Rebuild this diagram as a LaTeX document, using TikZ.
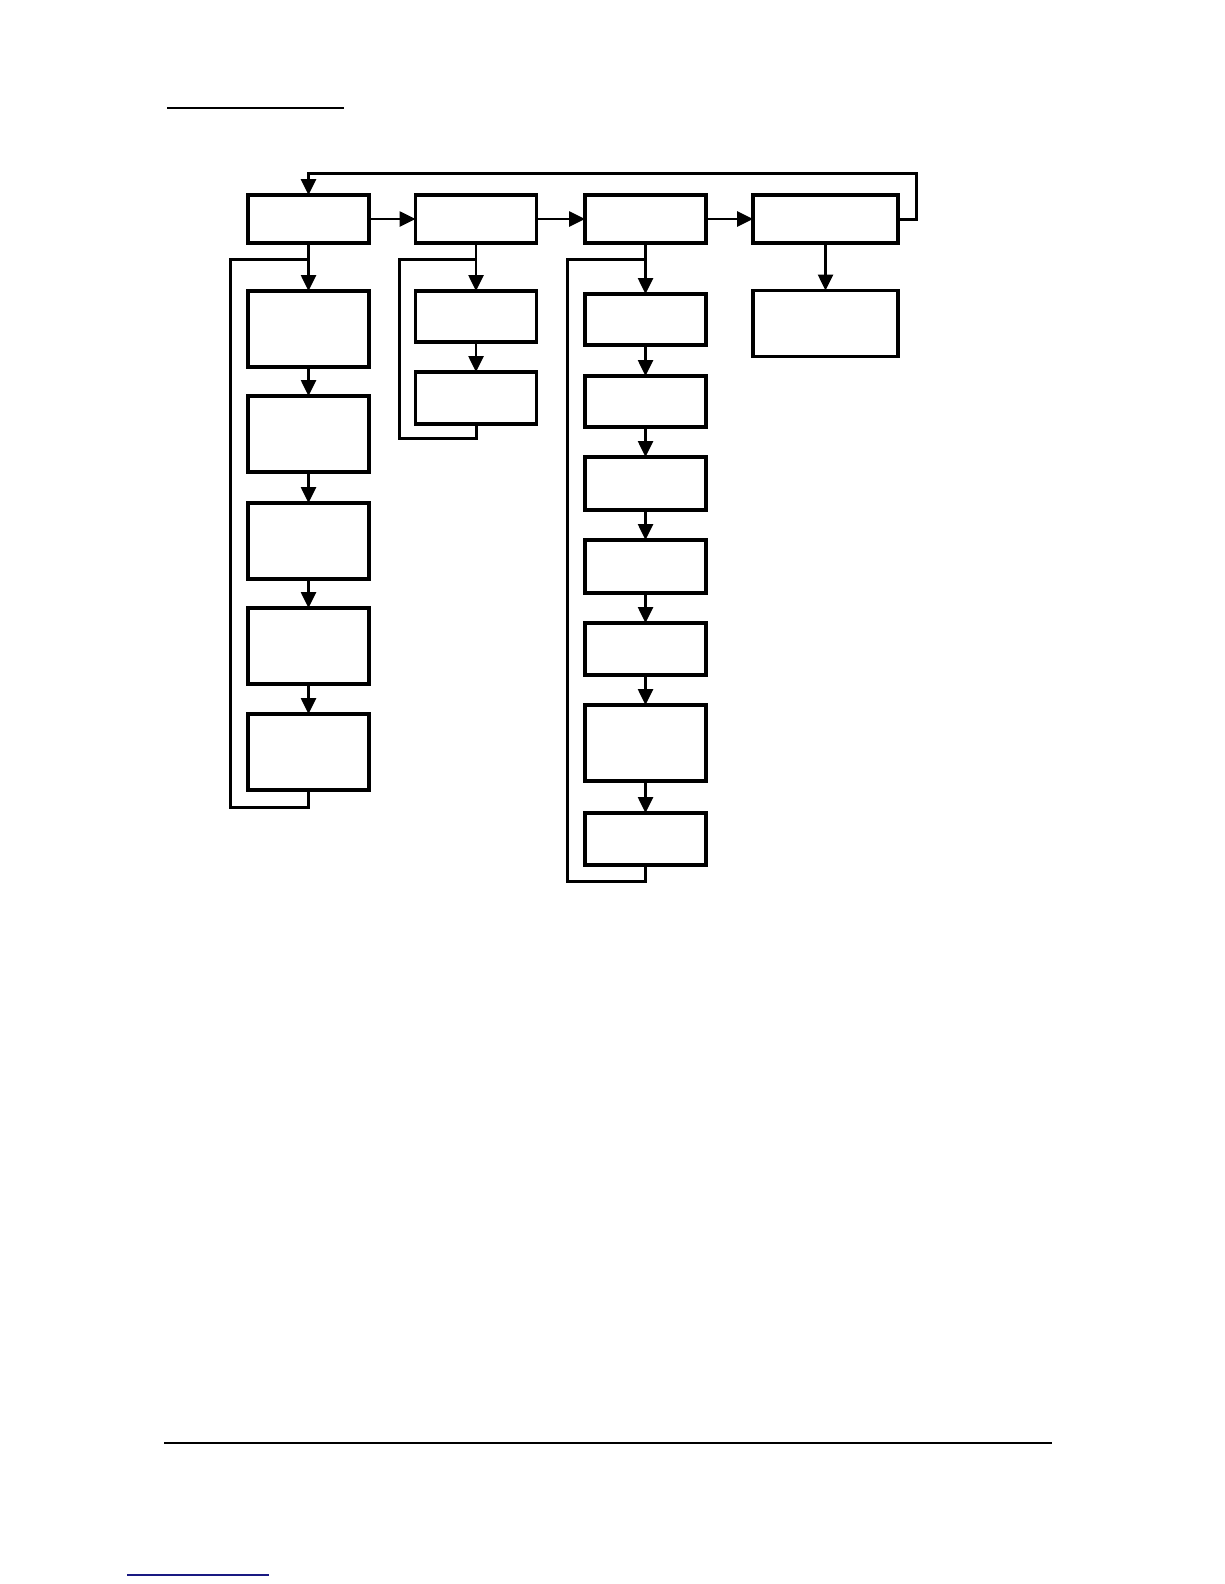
\documentclass[tikz,border=0pt]{standalone}
\usepackage{tikz}
\usetikzlibrary{arrows.meta}
\definecolor{linkblue}{RGB}{25,25,130}
\begin{document}
\begin{tikzpicture}[x=1pt,y=-1pt,line width=2.6pt,>={Triangle[length=16pt,width=15pt]},blk/.style={draw,line width=3.2pt,inner sep=0pt,outer sep=0pt,minimum width=121pt,minimum height=#1},blk/.default=76pt,back/.style={line width=3pt}]
\useasboundingbox (0,0) rectangle (1224,1584);
% page rules
\draw[line width=1.2pt] (167,108) -- (344,108);
\draw[line width=1.5pt] (164,1443) -- (1052,1443);
\draw[line width=1.5pt,color=linkblue] (127,1575) -- (269,1575);
% top row
\node[blk=48pt] (t1) at (308.5,219){};
\node[blk=48pt] (t2) at (476,219){};
\node[blk=48pt] (t3) at (645.5,219){};
\node[blk=48pt,minimum width=145pt] (t4) at (825.5,219){};
\foreach \i/\j in {1/2,2/3,3/4}{\draw[->] (t\i) -- (t\j);};
\coordinate (r1) at (916,173.5);
\draw[back,->] (t4.east) -| (r1) -| (t1.north);
% first column
\foreach \i/\y in {1/329,2/434,3/541,4/646,5/752}{\node[blk] (a\i) at (308.5,\y){};};
\draw[->] (t1) -- (a1);
\foreach \i/\j in {1/2,2/3,3/4,4/5}{\draw[->] (a\i) -- (a\j);};
\coordinate (ja) at (308.5,259.5); \coordinate (la) at (230,807);
\draw[back] (a5.south) |- (la) |- (ja);
% second column
\node[blk=51pt] (b1) at (476,316.5){};
\node[blk=52pt] (b2) at (476,398){};
\draw[->] (t2) -- (b1);
\draw[->] (b1) -- (b2);
\coordinate (jb) at (476,259.5); \coordinate (lb) at (399,438);
\draw[back] (b2.south) |- (lb) |- (jb);
% third column
\foreach \i/\y/\h in {1/319.5/51,2/401.5/51,3/483.5/53,4/566.5/53,5/649/52,6/743/76,7/839/52}{\node[blk=\h pt] (c\i) at (645.5,\y){};};
\draw[->] (t3) -- (c1);
\foreach \i/\j in {1/2,2/3,3/4,4/5,5/6,6/7}{\draw[->] (c\i) -- (c\j);};
\coordinate (jc) at (645.5,259.5); \coordinate (lc) at (567,881);
\draw[back] (c7.south) |- (lc) |- (jc);
% fourth column
\node[blk=66pt,minimum width=145pt] (d1) at (825.5,323.5){};
\draw[->] (t4) -- (d1);
\end{tikzpicture}
\end{document}
